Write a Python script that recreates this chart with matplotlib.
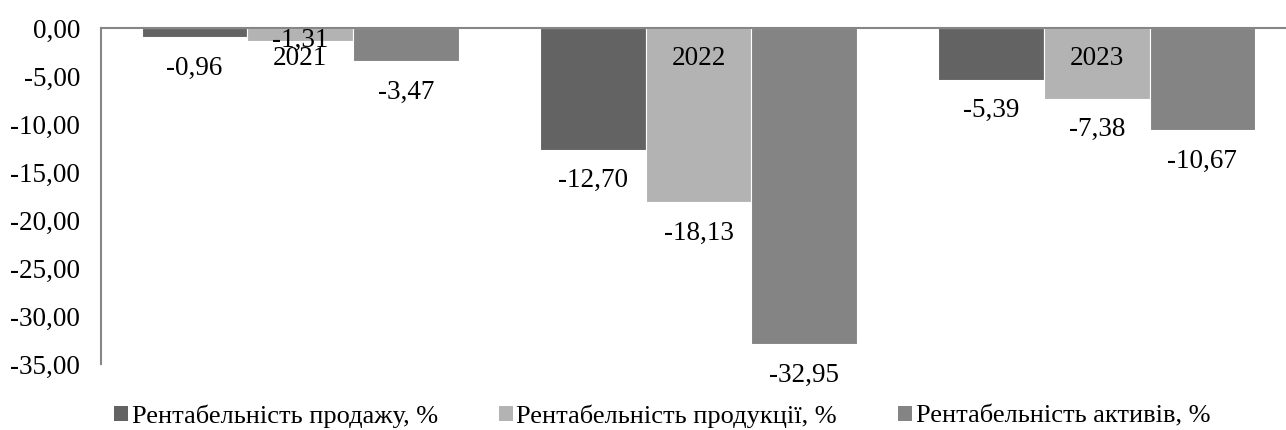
import matplotlib
matplotlib.use("Agg")
import matplotlib.pyplot as plt
from matplotlib.patches import Patch
import numpy as np

years = ['2021', '2022', '2023']
series_names = ['Рентабельність продажу, %', 'Рентабельність продукції, %', 'Рентабельність активів, %']
prodazh = [-0.96, -12.70, -5.39]
produktsii = [-1.31, -18.13, -7.38]
aktyviv = [-3.47, -32.95, -10.67]
y_ticks = [0, -5, -10, -15, -20, -25, -30, -35]

plt.rcParams['font.family'] = ['Liberation Serif', 'DejaVu Serif']

colors = ['#636363', '#b3b3b3', '#848484']
all_series = [prodazh, produktsii, aktyviv]
fs = 19.5

fig = plt.figure(figsize=(12.86, 4.30), dpi=100)
ax = fig.add_axes([101 / 1286, 1 - 364 / 430, 1195 / 1286, 336 / 430])

x = np.arange(len(years))
w = 0.265
for k, vals in enumerate(all_series):
    pos = x + (k - 1) * w
    ax.bar(pos, vals, width=w, color=colors[k], edgecolor='white', linewidth=0.8, zorder=2)
    for i, v in enumerate(vals):
        # the -1,31 label sits on the bar end in the original
        dy = 0 if (k == 1 and i == 0) else -22.3
        ax.annotate(f"{v:.2f}".replace('.', ','), (pos[i], v), xytext=(0, dy),
                    textcoords='offset points', ha='center', va='center',
                    fontsize=fs, color='black', zorder=5)

for i, yr in enumerate(years):
    ax.annotate(yr, (x[i], 0), xytext=(0, -22.3), textcoords='offset points',
                ha='center', va='center', fontsize=fs, color='black', zorder=5)

ax.set_xlim(-0.5, 2.5)
ax.set_ylim(-35, 0)
ax.set_yticks(y_ticks)
ax.set_yticklabels([f"{t:.2f}".replace('.', ',') for t in y_ticks], fontsize=fs)
ax.tick_params(axis='y', length=0, pad=15)
ax.set_xticks([])

for s in ['right', 'bottom']:
    ax.spines[s].set_visible(False)
ax.spines['left'].set_color('#868686')
ax.spines['top'].set_color('#868686')
ax.spines['left'].set_linewidth(1.5)
ax.spines['top'].set_linewidth(1.5)

handles = [Patch(facecolor=c, edgecolor='none') for c in colors]
fig.legend(handles, series_names, loc='center', bbox_to_anchor=(662 / 1286, 1 - 416 / 430),
           ncol=3, frameon=False, fontsize=19, handlelength=0.53, handleheight=0.53,
           handletextpad=0.15, columnspacing=2.3, borderpad=0, borderaxespad=0)

fig.savefig('out.png', dpi=100)
